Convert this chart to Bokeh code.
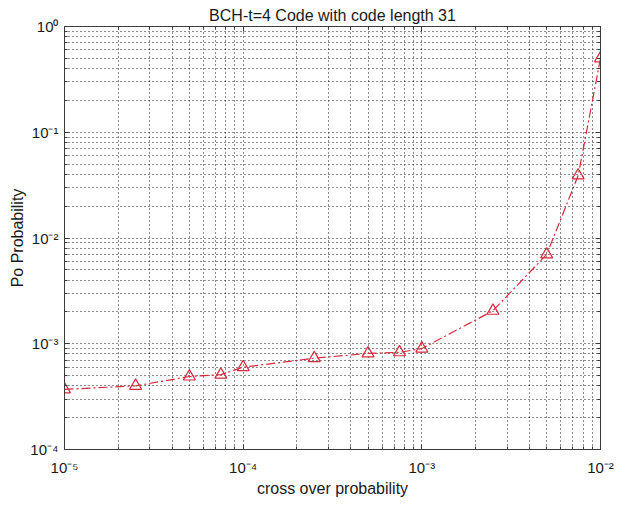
from bokeh.plotting import figure
from bokeh.models import FixedTicker, LogAxis, ColumnDataSource, Range1d
from bokeh.embed import file_html
from bokeh.resources import INLINE

# data
cross_over = [1e-5, 2.5e-5, 5e-5, 7.5e-5, 1e-4, 2.5e-4, 5e-4, 7.5e-4, 1e-3, 2.5e-3, 5e-3, 7.5e-3, 1e-2]
po_prob = [3.7e-4, 4.0e-4, 4.9e-4, 5.1e-4, 6.0e-4, 7.3e-4, 8.1e-4, 8.3e-4, 9.0e-4, 2.05e-3, 7.0e-3, 3.9e-2, 0.5]

x_major = [1e-5, 1e-4, 1e-3, 1e-2]
x_labels = ["10\u207b\u2075", "10\u207b\u2074", "10\u207b\u00b3", "10\u207b\u00b2"]
y_major = [1e-4, 1e-3, 1e-2, 1e-1, 1e0]
y_labels = ["10\u207b\u2074", "10\u207b\u00b3", "10\u207b\u00b2", "10\u207b\u00b9", "10\u2070"]
minor_mult = [2, 3, 4, 5, 6, 7, 8, 9]

x_minor = [m * d for d in x_major[:-1] for m in minor_mult]
y_minor = [m * d for d in y_major[:-1] for m in minor_mult]

FONT = "Liberation Sans"
TXT = "#1a1a1a"
AX = "#3a3a3a"

p = figure(frame_width=536, frame_height=423, x_axis_type="log", y_axis_type="log",
           x_range=Range1d(1e-5, 1e-2), y_range=Range1d(1e-4, 1e0),
           output_backend="svg", toolbar_location=None,
           title="BCH-t=4 Code with code length 31",
           min_border_left=64, min_border_right=16, min_border_top=26, min_border_bottom=45)

p.title.align = "center"
p.title.text_font = FONT
p.title.text_font_size = "16px"
p.title.text_font_style = "normal"
p.title.text_color = TXT
p.title.standoff = 5

xt = FixedTicker(ticks=x_major, minor_ticks=x_minor)
yt = FixedTicker(ticks=y_major, minor_ticks=y_minor)

p.xaxis.ticker = xt
p.yaxis.ticker = yt
p.xaxis.major_label_overrides = {v: s for v, s in zip(x_major, x_labels)}
p.yaxis.major_label_overrides = {v: s for v, s in zip(y_major, y_labels)}
p.xaxis.axis_label = "cross over probability"
p.yaxis.axis_label = "Po Probability"

for ax in [p.xaxis[0], p.yaxis[0]]:
    ax.major_label_text_font = FONT
    ax.major_label_text_font_size = "15px"
    ax.major_label_text_color = TXT
    ax.axis_label_text_font = FONT
    ax.axis_label_text_font_size = "16px"
    ax.axis_label_text_font_style = "normal"
    ax.axis_label_text_color = TXT
    ax.major_tick_in = 5
    ax.major_tick_out = 0
    ax.minor_tick_in = 3
    ax.minor_tick_out = 0
    ax.axis_line_color = AX
    ax.major_tick_line_color = AX
    ax.minor_tick_line_color = AX
p.xaxis.major_label_standoff = 9
p.xaxis.axis_label_standoff = 1
p.yaxis.major_label_standoff = 6
p.yaxis.axis_label_standoff = 1

# box axes (top / right) with ticks only
for loc in ["above", "right"]:
    ax = LogAxis(ticker=xt if loc == "above" else yt)
    ax.major_label_text_color = None
    ax.major_label_text_font_size = "2px"
    ax.major_tick_in = 5
    ax.major_tick_out = 0
    ax.minor_tick_in = 3
    ax.minor_tick_out = 0
    ax.axis_line_color = AX
    ax.major_tick_line_color = AX
    ax.minor_tick_line_color = AX
    ax.major_label_standoff = 0
    p.add_layout(ax, loc)

for g in [p.xgrid[0], p.ygrid[0]]:
    g.grid_line_color = "#000000"
    g.grid_line_alpha = 0.9
    g.grid_line_dash = "1 3"
    g.minor_grid_line_color = "#000000"
    g.minor_grid_line_alpha = 0.9
    g.minor_grid_line_dash = "1 3"
p.xgrid.ticker = xt
p.ygrid.ticker = yt

p.outline_line_color = AX
p.background_fill_color = "white"
p.border_fill_color = "white"

src = ColumnDataSource(dict(x=cross_over, y=po_prob))
RED = "#d8283a"
p.line("x", "y", source=src, line_color=RED, line_width=1.2, line_dash="9 3 2 3")
p.scatter("x", "y", source=src, marker="triangle", size=12, fill_color=None,
          line_color=RED, line_width=1.2)

open("out.html", "w").write(file_html(p, INLINE))
